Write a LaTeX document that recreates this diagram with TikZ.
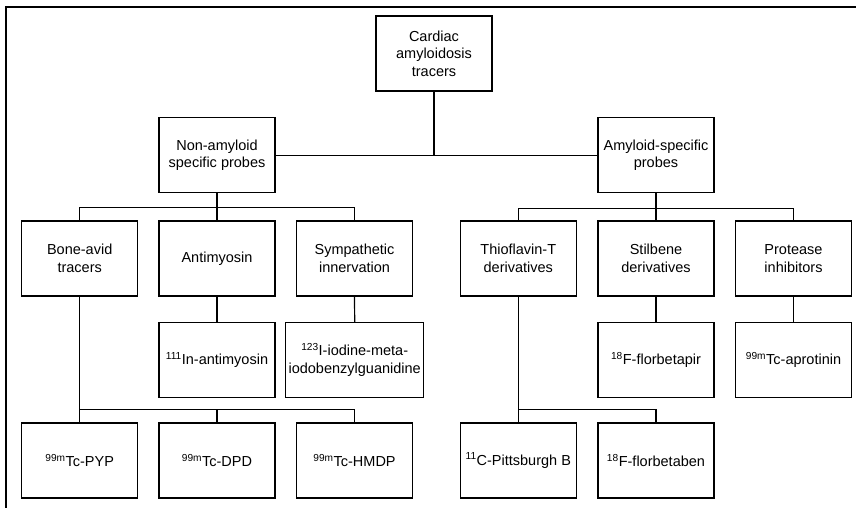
\documentclass[tikz,border=0pt]{standalone}
\usepackage{fontspec}
\setmainfont{Liberation Sans}
\begin{document}
\begin{tikzpicture}[x=1pt,y=-1pt,
    box/.style={draw, line width=1.2pt, minimum width=116pt, minimum height=75pt,
                align=center, inner sep=2pt, font=\fontsize{14.5}{17.5}\selectfont},
    edge/.style={line width=1.2pt}]
            \useasboundingbox (0,0) rectangle (856,508);
            \draw[line width=2pt] (856,7) -- (6,7) -- (6,508);

            % Define nodes
            \node[box] (root) at (434,53.5) {Cardiac\\amyloidosis\\tracers};
            \node[box] (nonamy) at (217,155.2) {Non-amyloid\\specific probes};
            \node[box] (amy) at (656,155.2) {Amyloid-specific\\probes};

            \node[box] (bone) at (79.7,258.5) {Bone-avid\\tracers};
            \node[box] (antim) at (217,258.5) {Antimyosin};
            \node[box] (symp) at (354.5,258.5) {Sympathetic\\innervation};
            \node[box] (thio) at (518.3,258.5) {Thioflavin-T\\derivatives};
            \node[box] (stil) at (656,258.5) {Stilbene\\derivatives};
            \node[box] (prot) at (793.5,258.5) {Protease\\inhibitors};

            \node[box] (inab) at (217,360) {\textsuperscript{111}In-antimyosin};
            \node[box, minimum width=138pt] (mibg) at (354.7,360) {\textsuperscript{123}I-iodine-meta-\\iodobenzylguanidine};
            \node[box] (fbp) at (656,360) {\textsuperscript{18}F-florbetapir};
            \node[box] (apro) at (793.5,360) {\textsuperscript{99m}Tc-aprotinin};

            \node[box] (pyp) at (79.7,460.5) {\textsuperscript{99m}Tc-PYP};
            \node[box] (dpd) at (217,460.5) {\textsuperscript{99m}Tc-DPD};
            \node[box] (hmdp) at (354.5,460.5) {\textsuperscript{99m}Tc-HMDP};
            \node[box] (pitt) at (518.3,460.5) {\textsuperscript{11}C-Pittsburgh B};
            \node[box] (fbb) at (656,460.5) {\textsuperscript{18}F-florbetaben};

            % Draw edges
            \draw[edge] (root.south) |- (nonamy.east);
            \draw[edge] (root.south) |- (amy.west);

            \draw[edge] (nonamy.south) -- (antim.north);
            \draw[edge] (bone.north) -- ++(0,-13) -| (symp.north);
            \draw[edge] (amy.south) -- (stil.north);
            \draw[edge] (thio.north) -- ++(0,-12) -| (prot.north);

            \draw[edge] (antim.south) -- (inab.north);
            \draw[edge] (symp.south) -- (mibg.north);
            \draw[edge] (stil.south) -- (fbp.north);
            \draw[edge] (prot.south) -- (apro.north);

            \draw[edge] (bone.south) -- (pyp.north);
            \draw[edge] (pyp.north) -- ++(0,-13) -| (hmdp.north);
            \draw[edge] (dpd.north) -- ++(0,-13);
            \draw[edge] (thio.south) -- (pitt.north);
            \draw[edge] (pitt.north) -- ++(0,-13) -| (fbb.north);

        \end{tikzpicture}
\end{document}
